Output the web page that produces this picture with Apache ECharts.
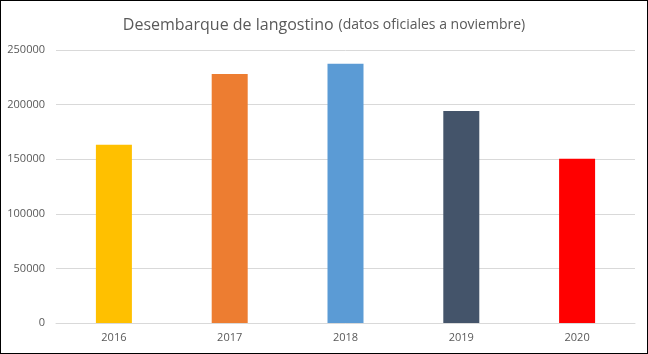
<html>
<head>
<meta charset="utf-8">
<script src="https://cdn.jsdelivr.net/npm/echarts@6/dist/echarts.min.js"></script>
</head>
<body>
<style>
    html, body { margin: 0; padding: 0; background: #fff; }
    #main { width: 648px; height: 354px; border: 1px solid #000; box-sizing: border-box; }
</style>
<div id="main"></div>
<script>
    var years = ['2016', '2017', '2018', '2019', '2020'];
    var desembarque = [163300, 228000, 237400, 194200, 150500];
    var colores = ['#FFC000', '#ED7D31', '#5B9BD5', '#44546A', '#FF0000'];
    var yTicks = [0, 50000, 100000, 150000, 200000, 250000];

    var chart = echarts.init(document.getElementById('main'));
    var option = {
        animation: false,
        title: {
            text: '{a|Desembarque de langostino} {b|(datos oficiales a noviembre)}',
            left: 'center',
            top: 10,
            textStyle: {
                fontWeight: 'normal',
                rich: {
                    a: { fontFamily: 'Open Sans', fontSize: 16, fontWeight: 'normal', color: '#595959' },
                    b: { fontFamily: 'Open Sans', fontSize: 14, fontWeight: 'normal', color: '#595959' }
                }
            }
        },
        grid: { left: 55, right: 12, top: 49, bottom: 30 },
        xAxis: {
            type: 'category',
            data: years,
            axisLine: { lineStyle: { color: '#d9d9d9' } },
            axisTick: { show: false },
            axisLabel: { color: '#595959', fontFamily: 'Open Sans', fontSize: 11, margin: 9 }
        },
        yAxis: {
            type: 'value',
            min: yTicks[0],
            max: yTicks[yTicks.length - 1],
            interval: 50000,
            axisLine: { show: false },
            axisTick: { show: false },
            splitLine: { lineStyle: { color: '#d9d9d9' } },
            axisLabel: {
                color: '#595959', fontFamily: 'Open Sans', fontSize: 11, margin: 11,
                formatter: function (v) { return String(v); }
            }
        },
        series: [{
            type: 'bar',
            barWidth: 36,
            data: desembarque.map(function (v, i) {
                return { value: v, itemStyle: { color: colores[i] } };
            })
        }]
    };
    chart.setOption(option);
    window.onresize = chart.resize;
</script>
</body>
</html>
